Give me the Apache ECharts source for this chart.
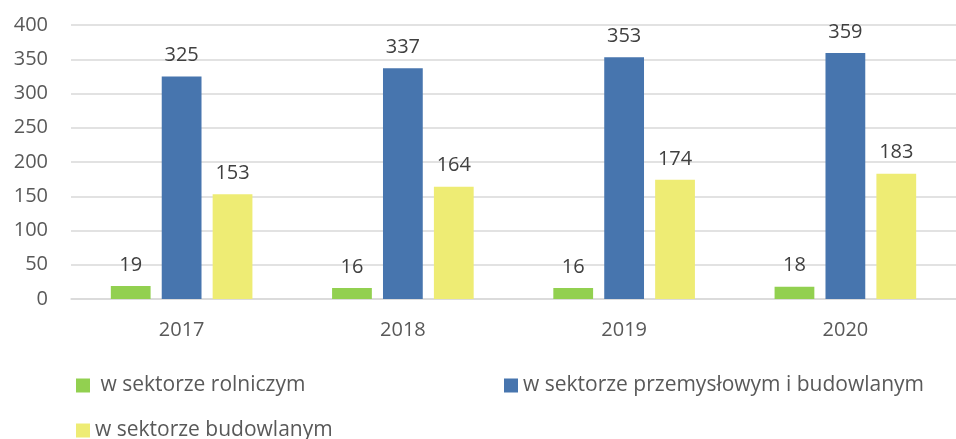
<!DOCTYPE html>
<html>
<head>
<meta charset="utf-8">
<script src="https://cdn.jsdelivr.net/npm/echarts@6/dist/echarts.min.js"></script>
<style>
html,body{margin:0;padding:0;background:#fff;}
#c{width:956px;height:439px;}
</style>
</head>
<body>
<div id="c"></div>
<script>
const categories = ['2017', '2018', '2019', '2020'];
const seriesNames = [' w sektorze rolniczym', 'w sektorze przemysłowym i budowlanym', 'w sektorze budowlanym'];
const rolniczy = [19, 16, 16, 18];
const przemyslowy = [325, 337, 353, 359];
const budowlany = [153, 164, 174, 183];
const yTicks = [0, 50, 100, 150, 200, 250, 300, 350, 400];

const FONT = 'Open Sans';
const colors = ['#92D050', '#4775AE', '#EEEC74'];
const chart = echarts.init(document.getElementById('c'));

function mkSeries(name, data, color) {
  return {
    name: name, type: 'bar', data: data,
    itemStyle: { color: color },
    barGap: '28%', barCategoryGap: '36%',
    label: { show: true, position: 'top', distance: 11, fontFamily: FONT, fontSize: 20, color: '#404040' },
    emphasis: { disabled: true }
  };
}

function mkLegend(name, left, top) {
  return {
    data: [name], left: left, top: top, icon: 'rect', itemWidth: 14, itemHeight: 14,
    itemGap: 0, padding: 0,
    textStyle: { fontFamily: FONT, fontSize: 21, color: '#595959' }
  };
}

chart.setOption({
  animation: false,
  grid: { left: 71, right: 0, top: 25, bottom: 140 },
  xAxis: {
    type: 'category', data: categories,
    axisLine: { lineStyle: { color: '#D9D9D9', width: 1.5 } },
    axisTick: { show: false },
    axisLabel: { fontFamily: FONT, fontSize: 20, color: '#595959', margin: 21 }
  },
  yAxis: {
    type: 'value', min: yTicks[0], max: yTicks[yTicks.length - 1], interval: 50,
    axisLine: { show: false }, axisTick: { show: false },
    splitLine: { lineStyle: { color: '#D9D9D9', width: 1.5 } },
    axisLabel: { fontFamily: FONT, fontSize: 20, color: '#595959', margin: 23 }
  },
  legend: [
    mkLegend(seriesNames[0], 76, 375),
    mkLegend(seriesNames[1], 504, 375),
    mkLegend(seriesNames[2], 76, 420)
  ],
  series: [
    mkSeries(seriesNames[0], rolniczy, colors[0]),
    mkSeries(seriesNames[1], przemyslowy, colors[1]),
    mkSeries(seriesNames[2], budowlany, colors[2])
  ]
});
</script>
</body>
</html>
